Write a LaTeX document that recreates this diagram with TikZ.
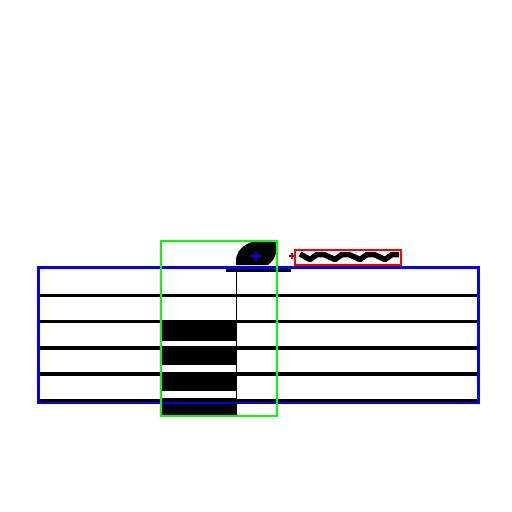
\documentclass[tikz,border=0pt]{standalone}
\begin{document}
\begin{tikzpicture}[x=1pt,y=-1pt,
  staffline/.style={line width=3.5pt,black},
  bluebox/.style={draw=blue,line width=2.6pt},
  greenbox/.style={draw=green,line width=2.6pt},
  redbox/.style={draw=red,line width=2pt},
  blockfill/.style={fill=black}]
\useasboundingbox (0,0) rectangle (512,512);
% staff lines
\foreach \yy in {295.5,321.5,348,374,400.5}
  \draw[staffline] (38,\yy) -- (478,\yy);
% black blocks
\foreach \ya/\yb in {322/341,347/364.5,372/391,398/415}
  \fill[blockfill] (162,\ya) rectangle (236,\yb);
% stem
\draw[line width=1.5pt] (236.5,268) -- (236.5,415);
% ledger line
\draw[line width=3pt] (226,270.5) -- (291,270.5);
% notehead
\fill[black] (236,265) -- (268,265) .. controls (276,259) and (278,250) .. (276,240.5)
  -- (262,240.5) .. controls (244,241) and (234,252) .. cycle;
% trill wave
\draw[line width=5.5pt,line join=round]
  (300,254) \foreach \i in {0,1,2,3} { -- ({299+\i*25+11},259.5) -- ({299+\i*25+18},254.5) -- ({299+\i*25+25},254.5) };
% boxes
\draw[bluebox] (38.3,267.5) rectangle (478.3,402.8);
\draw[greenbox] (161,241) rectangle (277,416);
\draw[redbox] (294.5,249.5) rectangle (400.5,264.5);
% crosses
\draw[blue,line width=1.5pt] (251,256) -- (261,256) (256,251) -- (256,261);
\draw[red!80!black,line width=1.5pt] (289,256) -- (295,256) (292,253) -- (292,259);
\end{tikzpicture}
\end{document}
